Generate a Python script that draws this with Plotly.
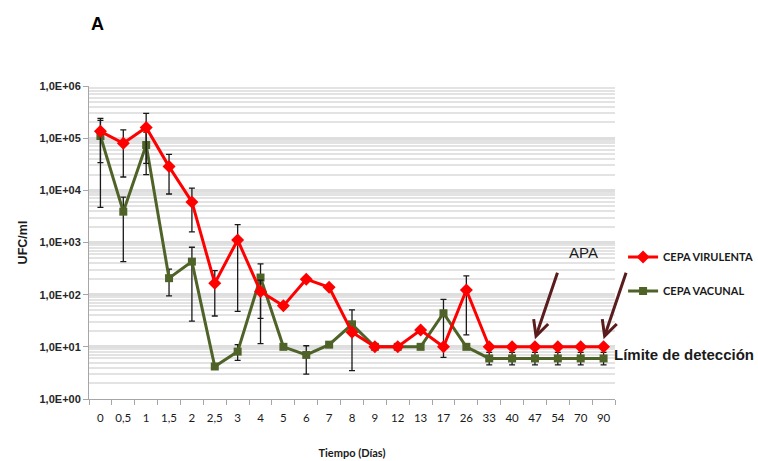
import math
import plotly.graph_objects as go

# Sampling days (categorical axis)
dias = ["0", "0,5", "1", "1,5", "2", "2,5", "3", "4", "5", "6", "7", "8", "9",
        "12", "13", "17", "26", "33", "40", "47", "54", "70", "90"]

# CFU/ml means
virulenta = [1.35e5, 8.0e4, 1.6e5, 2.85e4, 6.0e3, 166, 1.12e3, 115, 61, 198, 139, 19, 10,
             10, 21, 10, 123, 10, 10, 10, 10, 10, 10]
vacunal = [1.1e5, 3.9e3, 7.4e4, 207, 430, 4.2, 8.1, 213, 10, 7, 11, 27, 10,
           10, 10, 44, 10, 6, 6, 6, 6, 6, 6]

# Error bar limits (upper / lower)
vir_sup = [2.4e5, 1.44e5, 3.0e5, 4.9e4, 1.1e4, 290, 2.2e3, 190, 61, 198, 139, 19, 10,
           10, 21, 10, 230, 10, 10, 10, 10, 10, 10]
vir_inf = [3.4e4, 1.8e4, 3.3e4, 8.5e3, 1.6e3, 39, 48, 35, 61, 198, 139, 19, 10,
           10, 21, 10, 17, 10, 10, 10, 10, 10, 10]
vac_sup = [2.2e5, 7.4e3, 1.3e5, 310, 810, 4.2, 11, 390, 10, 10.5, 11, 51, 10,
           10, 10, 81, 10, 7.8, 7.8, 7.8, 7.8, 7.8, 7.8]
vac_inf = [4.7e3, 430, 2.0e4, 95, 31, 4.2, 5.5, 11.5, 10, 3, 11, 3.5, 10,
           10, 10, 6.3, 10, 4.5, 4.5, 4.5, 4.5, 4.5, 4.5]

ytick_vals = [1, 10, 100, 1e3, 1e4, 1e5, 1e6]
ytick_text = ["1,0E+00", "1,0E+01", "1,0E+02", "1,0E+03", "1,0E+04", "1,0E+05", "1,0E+06"]

# Days flagged with an arrow (APA)
dias_apa = ["47", "90"]

ROJO = "#ff0000"
VERDE = "#4f6228"
FLECHA = "#5a1c1c"


def deltas(vals, sup, inf):
    plus = [max(s - v, 0) for s, v in zip(sup, vals)]
    minus = [max(v - i, 0) for i, v in zip(inf, vals)]
    return plus, minus


vir_p, vir_m = deltas(virulenta, vir_sup, vir_inf)
vac_p, vac_m = deltas(vacunal, vac_sup, vac_inf)

fig = go.Figure()

fig.add_trace(go.Scatter(
    x=dias, y=vacunal, name="CEPA VACUNAL", mode="lines+markers",
    line=dict(color=VERDE, width=3),
    marker=dict(symbol="square", size=8, color=VERDE),
    error_y=dict(type="data", array=vac_p, arrayminus=vac_m, symmetric=False,
                 color="#1a1a1a", thickness=1.3, width=3),
    legendgroup="b", legendrank=2,
))
fig.add_trace(go.Scatter(
    x=dias, y=virulenta, name="CEPA VIRULENTA", mode="lines+markers",
    line=dict(color=ROJO, width=3),
    marker=dict(symbol="diamond", size=10, color=ROJO),
    error_y=dict(type="data", array=vir_p, arrayminus=vir_m, symmetric=False,
                 color="#1a1a1a", thickness=1.3, width=3),
    legendgroup="a", legendrank=1,
))

fig.update_xaxes(
    type="category", categoryorder="array", categoryarray=dias,
    range=[-0.5, len(dias) - 0.5], automargin=False, tickangle=0,
    tickson="boundaries", ticks="outside", ticklen=5, tickcolor="#a6a6a6",
    showline=True, linecolor="#a6a6a6", linewidth=1, showgrid=False,
    tickfont=dict(family="Lato", size=11.5, color="#1a1a1a"),
    ticklabelstandoff=8,
    title=dict(text="<b>Tiempo (Días)</b>", font=dict(family="Lato", size=11, color="#1a1a1a"),
               standoff=26),
)
fig.update_yaxes(
    type="log", range=[0, 6], automargin=False,
    tickvals=ytick_vals, ticktext=ytick_text,
    ticks="outside", ticklen=5, tickcolor="#a6a6a6",
    showline=True, linecolor="#a6a6a6", linewidth=1,
    showgrid=True, gridcolor="#dedede", gridwidth=3,
    minor=dict(dtick="D1", showgrid=True, gridcolor="#e3e3e3", gridwidth=2, ticks=""),
    tickfont=dict(family="Liberation Sans", size=11, color="#262626", weight="bold"),
    title=dict(text="<b>UFC/ml</b>", font=dict(family="Liberation Sans", size=12.5, color="#1a1a1a"),
               standoff=9),
    zeroline=False,
)

# Arrows pointing at the virulent-strain points on the flagged days
flechas = [
    dict(x=dias.index(d), y=math.log10(v * 1.4), xref="x", yref="y", text="",
         showarrow=True, ax=23, ay=-68, arrowhead=5, arrowsize=1, arrowwidth=3,
         arrowcolor=FLECHA, standoff=0)
    for d, v in ((d, virulenta[dias.index(d)]) for d in dias_apa)
]

fig.update_layout(
    width=758, height=461,
    margin=dict(l=89, r=143, t=86, b=62),
    paper_bgcolor="white", plot_bgcolor="white",
    showlegend=True,
    legend=dict(xref="container", yref="container", x=0.822, y=0.474,
                xanchor="left", yanchor="top",
                traceorder="grouped", tracegroupgap=15, itemwidth=30,
                font=dict(family="Lato", size=11, color="#1a1a1a", weight="bold"),
                bgcolor="rgba(0,0,0,0)"),
    annotations=[
        dict(text="<b>A</b>", xref="paper", yref="paper", x=0.016, y=1.198,
             xanchor="center", yanchor="middle", showarrow=False,
             font=dict(family="Liberation Sans", size=18, color="black")),
        dict(text="APA", xref="paper", yref="paper", x=0.941, y=0.469,
             xanchor="center", yanchor="middle", showarrow=False,
             font=dict(family="Liberation Sans", size=15, color="#1a1a1a")),
        dict(text="<b>Límite de detección</b>", xref="paper", yref="paper", x=0.994, y=0.141,
             xanchor="left", yanchor="middle", showarrow=False,
             font=dict(family="Liberation Sans", size=15, color="#1a1a1a")),
    ] + flechas,
)

fig.write_html("out.html")
